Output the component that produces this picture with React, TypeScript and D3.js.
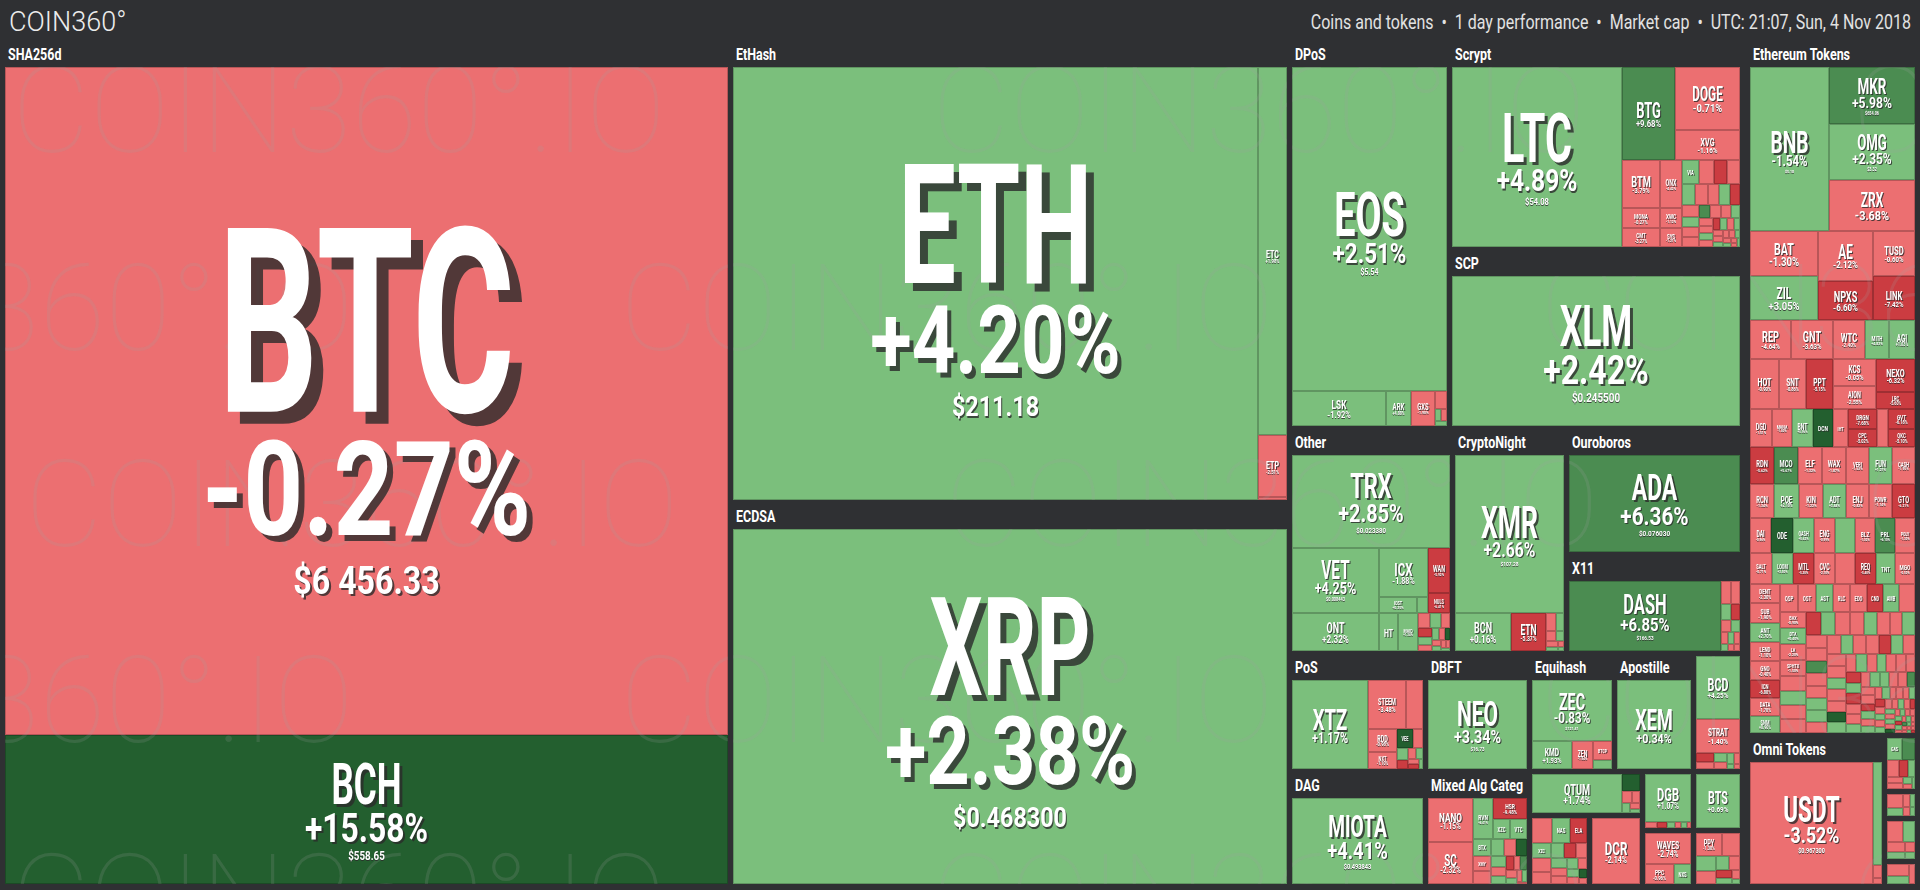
import React, { useMemo } from 'react';
import * as d3 from 'd3';

// [ticker, weight, 24h change %, price?, change used for the cell tint when it differs from the shown change?]
type Row = [string, number, number, string?, number?];

const BG = '#2f3033';
const HEAD = 24;
const GAP = 5;
const FONT = "Roboto, 'DejaVu Sans', sans-serif";

// ---------------- data (values = estimated block weights) ----------------
const SHA256D: Row[] = [['BTC', 4803, -0.27, '$6 456.33'], ['BCH', 1071, 15.58, '$558.65']];
const ETHASH_MAIN: Row[] = [['ETH', 2265, 4.2, '$211.18']];
const ETHASH_SIDE: Row[] = [['ETC', 107, 1.98], ['ETP', 18, -2.51], ['UBQ', 1, -3.1]];
const ECDSA: Row[] = [['XRP', 1956, 2.38, '$0.468300']];

const DPOS_MAIN: Row[] = [['EOS', 502, 2.51, '$5.54']];
const DPOS_ROW: Row[] = [['LSK', 32.3, -1.92, '$3.61', 1.92], ['ARK', 8.8, 4.88], ['GXS', 8.2, -1.9]];
const DPOS_TAIL: Row[] = [['', 2.3, -1.4], ['', 0.8, 1.5], ['', 0.7, -0.5], ['', 0.6, 0.8]];

const SCRYPT_MAIN: Row[] = [['LTC', 304, 4.89, '$54.08']];
const SCRYPT_BTG: Row[] = [['BTG', 49.3, 9.68, '$30.12']];
const SCRYPT_DOGE: Row[] = [['DOGE', 41, -0.71, '$0.005150'], ['XVG', 19.5, -1.16, '$0.012700']];
const SCRYPT_BTM: Row[] = [['BTM', 18.3, -3.79], ['ONX', 10.3, -4.42]];
const SCRYPT_MONA: Row[] = [['MONA', 7.8, -0.27], ['CMT', 7.0, -3.27]];
const SCRYPT_SYS: Row[] = [['XWC', 4.4, -1.12], ['SYS', 4.0, -1.21]];
const SCRYPT_TAIL: Row[] = [
  ['VIA', 4.2, 1.8], ['', 3.6, -2.1], ['', 3.2, -6.5], ['', 3.0, -1.4], ['', 2.8, 3.1], ['', 2.6, -0.9],
  ['', 2.4, -2.7], ['', 2.2, 1.2], ['', 2.1, -5.8], ['', 2.0, -1.6], ['', 1.8, 2.4], ['', 1.7, -0.8],
  ['', 1.6, -3.3], ['', 1.5, 7.2], ['', 1.4, -1.1], ['', 1.3, -2.2], ['', 1.2, 1.5], ['', 1.1, -0.6],
  ['', 1.0, -4.1], ['', 0.95, 2.2], ['', 0.9, -1.9], ['', 0.85, -7.5], ['', 0.8, 0.7], ['', 0.75, -2.5],
  ['', 0.7, 1.9], ['', 0.65, -1.3], ['', 0.6, -0.4], ['', 0.55, 3.4], ['', 0.5, -2.8], ['', 0.45, -1.0],
  ['', 0.4, 1.1], ['', 0.35, -3.6], ['', 0.3, 0.5], ['', 0.3, -1.7], ['', 0.25, -0.9], ['', 0.25, 2.6],
];
const SCP: Row[] = [['XLM', 431, 2.42, '$0.245500']];

const OTHER_MAIN: Row[] = [['TRX', 147, 2.85, '$0.023380']];
const OTHER_VET: Row[] = [['VET', 57.4, 4.25, '$0.008443'], ['ONT', 33.1, 2.32, '$1.73']];
const OTHER_ICX: Row[] = [['ICX', 24.0, -1.88, '$0.9873', 1.88]];
const OTHER_IOST: Row[] = [['IOST', 6.3, 0.35], ['MOAC', 2.0, 1.4]];
const OTHER_WAN: Row[] = [['WAN', 9.9, -5.92], ['NULS', 4.6, -6.41]];
const OTHER_LOW: Row[] = [['HT', 7.2, 1.05], ['MAID', 7.6, 1.34]];
const OTHER_TAIL: Row[] = [
  ['', 1.8, -2.4], ['', 1.6, 1.2], ['', 1.4, -0.8], ['', 1.2, -6.3], ['', 1.0, 2.1], ['', 0.9, -1.5], ['', 0.8, 0.6],
  ['', 0.7, -2.9], ['', 0.6, 10.5], ['', 0.55, -1.1], ['', 0.5, 1.7], ['', 0.45, -0.5], ['', 0.4, -3.8], ['', 0.3, 0.9],
];

const CN_MAIN: Row[] = [['XMR', 171, 2.66, '$107.28']];
const CN_ROW: Row[] = [['BCN', 21.8, 0.16], ['ETN', 13.3, -5.37]];
const CN_TAIL: Row[] = [['', 2.0, -1.5], ['', 1.4, 1.8], ['', 1.0, -0.6], ['', 0.8, 2.4], ['', 0.7, -2.2], ['', 0.5, 0.4], ['', 0.35, -1.1], ['', 0.25, 1.0]];

const OUROBOROS: Row[] = [['ADA', 167, 6.36, '$0.076030']];
const X11_MAIN: Row[] = [['DASH', 107, 6.85, '$166.53']];
const X11_TAIL: Row[] = [
  ['', 2.4, -2.0], ['', 2.0, -1.2], ['', 1.6, 1.5], ['', 1.4, -5.4], ['', 1.2, -0.7], ['', 1.0, 2.2],
  ['', 0.9, -1.8], ['', 0.8, 0.9], ['', 0.7, -2.6], ['', 0.5, 1.3], ['', 0.4, -0.4], ['', 0.4, -3.0],
];

const POS_MAIN: Row[] = [['XTZ', 66.8, 1.17, '$1.24']];
const POS_STEEM: Row[] = [['STEEM', 18.6, -3.48], ['ARDR', 8.3, -1.95]];
const POS_RDD: Row[] = [['RDD', 6.7, -0.98], ['NXT', 4.9, -1.1]];
const POS_TAIL: Row[] = [['VEE', 3.0, 12.4], ['', 1.8, -1.3], ['', 1.4, 1.9], ['', 1.1, -6.5], ['', 0.9, -0.9], ['', 0.7, 2.7], ['', 0.6, -2.2], ['', 0.5, -9.8], ['', 0.4, 1.1]];

const DAG: Row[] = [['MIOTA', 112, 4.41, '$0.493843']];
const DBFT: Row[] = [['NEO', 88.1, 3.34, '$16.73']];
const MIX_NANO: Row[] = [['NANO', 19.8, -1.15], ['SC', 18.9, -2.32]];
const MIX_RVN: Row[] = [['RVN', 8.2, 4.41]];
const MIX_HSR: Row[] = [['HSR', 7.1, -9.48]];
const MIX_XZC: Row[] = [['XZC', 3.4, 2.9], ['VTC', 3.4, 1.9]];
const MIX_TAIL: Row[] = [
  ['BTX', 3.2, 2.1], ['XMY', 2.8, -1.6], ['', 2.4, -2.4], ['', 2.2, 1.4], ['', 2.0, -0.9], ['', 1.8, 12.2],
  ['', 1.6, 3.5], ['', 1.4, -1.8], ['', 1.2, 0.8], ['', 1.1, -6.0], ['', 1.0, -1.1], ['', 0.9, 5.5],
  ['', 0.8, -2.7], ['', 0.7, 1.6], ['', 0.6, -0.4], ['', 0.5, 0.9], ['', 0.2, -1.5],
];

const EQUI_MAIN: Row[] = [['ZEC', 49.4, -0.83, '$121.41', 0.83]];
const EQUI_ROW: Row[] = [['KMD', 11.5, 1.93], ['ZEN', 5.9, -1.94]];
const EQUI_SMALL: Row[] = [['BTCP', 3.6, -2.4], ['ZCL', 1.7, 1.2]];
const APOSTILLE: Row[] = [['XEM', 66.8, 0.34, '$0.092551']];
const BCD_ROWS: Row[] = [['BCD', 27.7, 4.25, '$12.23'], ['STRAT', 15, -1.4]];
const BCD_TAIL: Row[] = [['', 1.6, -5.5], ['', 1.3, -1.2], ['', 1.1, 1.0], ['', 0.9, -0.6], ['', 0.8, 2.0], ['', 0.6, -2.8], ['', 0.4, 0.7], ['', 0.3, -1.5]];

const QTUM_MAIN: Row[] = [['QTUM', 35.1, 1.74, '$3.96']];
const QTUM_TAIL: Row[] = [['', 3.1, 11.0], ['', 1.2, -2.1], ['', 1.0, -0.9], ['', 0.8, 1.6], ['', 0.6, -4.0], ['', 0.4, 2.2]];
const GROUP_G: Row[] = [
  ['GBYTE', 5.0, -1.2], ['NAS', 4.6, 1.46], ['ELA', 4.2, -7.1], ['XZC', 3.0, 1.1], ['', 2.6, -1.9], ['', 2.3, -2.6],
  ['', 2.1, 0.8], ['', 1.9, -5.7], ['', 1.7, -1.0], ['', 1.5, 2.4], ['', 1.4, -0.5], ['', 1.3, -2.2],
  ['', 1.2, 1.3], ['', 1.0, -1.4], ['', 0.9, 0.6], ['', 0.8, -3.3], ['', 0.7, 13.0], ['', 0.5, -0.8],
];
const DCR: Row[] = [['DCR', 32.2, -2.14, '$40.00']];
const DGB: Row[] = [['DGB', 22.1, 1.07]];
const DGB_TAIL: Row[] = [['', 0.7, -1.2], ['', 0.6, -5.4], ['', 0.5, 0.9], ['', 0.4, -2.0], ['', 0.35, 1.7], ['', 0.25, -0.7]];
const WAVES: Row[] = [['WAVES', 14.1, -2.74]];
const WAVES_ROW: Row[] = [['PPC', 5.8, -0.96], ['NXS', 3.6, 1.34]];
const BTS: Row[] = [['BTS', 23.3, 0.69]];
const SMALL_B: Row[] = [['PPY', 6.0, -1.3], ['', 4.0, -2.1], ['', 3.0, 1.8], ['', 2.5, -0.8], ['', 2.0, 2.6], ['', 1.6, -1.7], ['', 1.3, -6.2], ['', 1.0, 0.5], ['', 0.6, -0.9], ['', 0.4, 1.2]];

const ETH_R1_MAIN: Row[] = [['BNB', 130, -1.54, '$5.18', 1.54]];
const ETH_R1_COL: Row[] = [['MKR', 48.7, 5.98, '$654.06'], ['OMG', 47.9, 2.35, '$3.32'], ['ZRX', 43.5, -3.68, '$0.785900']];
const ETH_R2_A: Row[] = [['BAT', 30.4, -1.3, '$0.236600'], ['ZIL', 29.7, 3.05, '$0.036960']];
const ETH_R2_B: Row[] = [['AE', 27.4, -2.12, '$1.17'], ['NPXS', 21.3, -6.6, '$0.001760']];
const ETH_R2_C: Row[] = [['TUSD', 18.9, -0.6], ['LINK', 18.5, -7.42]];
const ETH_R3: Row[] = [['REP', 16, -4.64], ['GNT', 16, -3.63], ['WTC', 12.5, -2.4], ['MITH', 9.5, 4.83], ['AGI', 9.9, 1.03]];
const ETH_R4: Row[] = [['HOT', 15, -0.9], ['SNT', 13.5, -0.86], ['PPT', 14, -5.15]];
const ETH_R4_A: Row[] = [['KCS', 11.6, -0.05], ['AION', 9.9, -2.55]];
const ETH_R4_B: Row[] = [['NEXO', 13.2, -6.32], ['LRC', 6.8, -5.6]];
const ETH_R5: Row[] = [['DGD', 8.5, -1.51], ['MANA', 7.4, -1.8], ['BNT', 7.8, 0.96], ['DCN', 7.8, 12.1], ['IHT', 5.6, -1.1]];
const ETH_R5_A: Row[] = [['DRGN', 5.5, -7.68], ['CPC', 5.2, -5.02]];
const ETH_R5_B: Row[] = [['INS', 4.4, -2.3]];
const ETH_R5_C: Row[] = [['GVT', 5.1, -6.18], ['QKC', 4.9, -5.1]];

const ETH_TAIL_NAMES = [
  'RDN', 'MCO', 'ELF', 'WAX', 'VERI', 'FUN', 'CASH', 'RCN', 'POE', 'KIN',
  'ADT', 'ENJ', 'POWR', 'GTO', 'DAI', 'ODE', 'QASH', 'ENG', 'STORM', 'BLZ',
  'PRL', 'POLY', 'SALT', 'LOOM', 'MTL', 'CVC', 'STORJ', 'REQ', 'TNT', 'MGO',
  'DENT', 'SUB', 'ANT', 'LEND', 'GNO', 'ICN', 'DATA', 'SNM', 'QSP', 'OST',
  'AST', 'RLC', 'EDO', 'CND', 'AMB', 'WINGS', 'BAX', 'DTA', 'LA', 'SPHTX',
];
const ETH_TAIL_VALUES = [
  9.0, 8.9, 8.9, 8.8, 8.6, 8.5, 8.4, 8.3, 8.2, 8.0,
  7.9, 7.8, 7.7, 7.6, 7.5, 7.4, 7.3, 7.2, 7.1, 7.0,
  6.9, 6.8, 6.7, 6.6, 6.5, 6.4, 6.3, 6.2, 6.1, 6.0,
  5.9, 5.8, 5.7, 5.6, 5.5, 5.4, 5.3, 5.2, 5.1, 5.0,
  4.9, 4.8, 4.7, 4.6, 4.5, 4.4, 4.3, 4.2, 4.1, 4.0,
  3.9, 3.8, 3.7, 3.6, 3.5, 3.4, 3.3, 3.2, 3.1, 3.0,
  2.9, 2.9, 2.8, 2.8, 2.7, 2.7, 2.6, 2.6, 2.5, 2.5,
  2.4, 2.4, 2.3, 2.3, 2.2, 2.2, 2.1, 2.1, 2.0, 2.0,
  1.9, 1.9, 1.8, 1.8, 1.7, 1.7, 1.6, 1.6, 1.5, 1.5,
  1.45, 1.4, 1.35, 1.3, 1.25, 1.2, 1.15, 1.1, 1.05, 1.0,
  0.95, 0.9, 0.85, 0.8, 0.78, 0.75, 0.72, 0.7, 0.68, 0.65,
  0.62, 0.6, 0.58, 0.55, 0.52, 0.5, 0.48, 0.46, 0.44, 0.42,
  0.4, 0.38, 0.36, 0.34, 0.32, 0.3, 0.28, 0.26, 0.25, 0.24,
  0.22, 0.21, 0.2, 0.19, 0.18, 0.17, 0.16, 0.15, 0.14, 0.12,
  2.6, 2.4, 2.2, 2.0, 1.8, 1.6, 1.4, 1.2, 1.0, 0.8,
];
const ETH_TAIL_CHANGES = [
  -5.62, 5.67, -1.32, -1.87, -1.63, 1.21, -1.95, -1.34, 2.18, -1.22,
  3.84, -0.82, -1.14, -6.21, -0.96, 11.2, 0.62, -0.99, 1.96, -1.02,
  6.1, -1.3, -0.71, 3.5, -5.3, -2.1, -1.6, -5.4, 1.8, -0.5,
  -2.3, -1.9, 2.7, -1.1, -0.4, -6.8, -1.7, 0.9, -2.6, -1.4,
  1.5, -3.2, -0.6, -7.1, 2.4, -1.8, -0.9, 0.4, -2.2, -1.5,
  -1.2, 3.1, -0.8, -2.7, -5.9, 1.1, -1.6, -0.3, 2.2, -3.4,
  -0.7, 1.7, -2.1, -1.3, 6.4, -0.5, -1.9, 2.9, -4.2, -1.0,
  0.8, -2.4, -6.3, 1.4, -1.1, -0.6, 3.3, -1.7, -2.9, 12.5,
  -1.4, 0.6, -0.9, 2.1, -3.8, -1.2, -7.4, 1.0, -0.4, -2.0,
  1.9, -1.5, 0.3, -2.6, -0.8, 5.2, -1.3, -5.1, 0.7, -1.1,
  -2.2, 2.6, -0.6, -1.8, 1.2, -8.1, -0.9, 0.5, -1.6, 3.7,
  -1.0, -2.5, 1.6, -0.4, -6.0, 0.9, -1.7, 2.3, -3.1, 10.8,
  -0.8, 1.3, -2.8, -1.2, 0.4, -5.6, 2.0, -1.4, -0.7, 1.1,
  -1.9, 6.9, -0.5, -2.3, 0.8, -1.1, -4.5, 1.8, -0.6, -9.2,
  2.5, -1.6, -0.3, 1.5, -2.4, -7.8, 0.6, -1.2, 3.2, -0.9,
];

const OMNI_MAIN: Row[] = [['USDT', 150, -3.52, '$0.967300']];
const OMNI_TAIL: Row[] = [['', 9.0, 1.8], ['', 1.2, -2.0], ['', 0.5, -1.0]];
const SM1: Row[] = [['GAS', 3.2, 4.1], ['', 2.8, 8.2], ['', 2.0, -2.1], ['', 1.6, -6.0], ['', 1.2, 1.5], ['', 1.0, -1.3], ['', 0.8, -0.7], ['', 0.7, 2.2], ['', 0.4, -1.8], ['', 0.3, 0.6]];
const SM2: Row[] = [['WGR', 2.4, -1.9], ['', 1.2, 1.1], ['', 0.9, -2.4], ['', 0.7, 0.5], ['', 0.6, -0.8], ['', 0.4, 3.0]];
const SM3: Row[] = [['', 3.5, -2.2], ['', 2.5, 1.4], ['', 1.8, -0.6], ['', 1.2, 2.5], ['', 0.9, -3.1], ['', 0.7, 0.3]];
const SM4: Row[] = [['', 2.6, -1.6], ['', 1.8, 1.9], ['', 1.2, -0.4]];

const HEADER_PARTS = ['Coins and tokens', '1 day performance', 'Market cap', 'UTC: 21:07, Sun, 4 Nov 2018'];

// watermark rows: [baseline y, x offset]
const WM_ROWS: [number, number][] = [[152, 12], [350, -300], [546, 25], [742, -300], [940, 12]];

// ---------------- structure ----------------
interface ND { name?: string; value?: number; change?: number; tint?: number; price?: string; label?: string; dir?: string; gap?: number; children?: ND[]; }
const L = (rows: Row[]): ND[] => rows.map(([name, value, change, price, tint]) => ({ name, value, change, price, tint: tint ?? change }));
const S = (dir: string, children: ND[]): ND => ({ dir, gap: 0, children });
const C = (dir: string, children: ND[], gap = GAP): ND => ({ dir, gap, children });
const G = (label: string, dir: string, children: ND[]): ND => ({ label, dir, gap: 0, children });
const M = (rows: Row[]): ND => ({ dir: 'sq', gap: 0, children: L(rows) });
const MZ = (names: string[], values: number[], changes: number[]): ND => ({
  dir: 'sq', gap: 0, children: values.map((v, i) => ({ name: names[i] || '', value: v, change: changes[i], tint: changes[i] })),
});

function buildTree(): ND {
  const sha = G('SHA256d', 'v', L(SHA256D));
  const ethash = G('EtHash', 'h', [...L(ETHASH_MAIN), S('v', L(ETHASH_SIDE))]);
  const ecdsa = G('ECDSA', 'v', L(ECDSA));
  const dpos = G('DPoS', 'v', [...L(DPOS_MAIN), S('h', [...L(DPOS_ROW), M(DPOS_TAIL)])]);
  const scrypt = G('Scrypt', 'h', [
    ...L(SCRYPT_MAIN),
    S('v', [
      S('h', [...L(SCRYPT_BTG), S('v', L(SCRYPT_DOGE))]),
      S('h', [S('v', [S('h', L(SCRYPT_BTM)), S('h', [S('v', L(SCRYPT_MONA)), S('v', L(SCRYPT_SYS))])]), M(SCRYPT_TAIL)]),
    ]),
  ]);
  const scp = G('SCP', 'v', L(SCP));
  const other = G('Other', 'v', [
    ...L(OTHER_MAIN),
    S('h', [
      S('v', L(OTHER_VET)),
      S('v', [
        S('h', [S('v', [...L(OTHER_ICX), S('h', L(OTHER_IOST))]), S('v', L(OTHER_WAN))]),
        S('h', [...L(OTHER_LOW), M(OTHER_TAIL)]),
      ]),
    ]),
  ]);
  const cn = G('CryptoNight', 'v', [...L(CN_MAIN), S('h', [...L(CN_ROW), M(CN_TAIL)])]);
  const ouro = G('Ouroboros', 'v', L(OUROBOROS));
  const x11 = G('X11', 'h', [...L(X11_MAIN), M(X11_TAIL)]);
  const pos = G('PoS', 'h', [...L(POS_MAIN), S('v', [S('h', L(POS_STEEM)), S('h', [S('v', L(POS_RDD)), M(POS_TAIL)])])]);
  const dag = G('DAG', 'v', L(DAG));
  const dbft = G('DBFT', 'v', L(DBFT));
  const mixed = G('Mixed Alg Categ', 'h', [
    S('v', L(MIX_NANO)),
    S('v', [S('h', [...L(MIX_RVN), S('v', [...L(MIX_HSR), S('h', L(MIX_XZC))])]), M(MIX_TAIL)]),
  ]);
  const equi = G('Equihash', 'v', [...L(EQUI_MAIN), S('h', [...L(EQUI_ROW), S('v', L(EQUI_SMALL))])]);
  const apost = G('Apostille', 'v', L(APOSTILLE));
  const bcd = S('v', [...L(BCD_ROWS), M(BCD_TAIL)]);
  const colQ = C('v', [S('h', [...L(QTUM_MAIN), M(QTUM_TAIL)]), C('h', [M(GROUP_G), S('v', L(DCR))])]);
  const colD = C('v', [S('v', [...L(DGB), M(DGB_TAIL)]), S('v', [...L(WAVES), S('h', L(WAVES_ROW))])]);
  const colB = C('v', [S('v', L(BTS)), M(SMALL_B)]);
  const ethTokens = G('Ethereum Tokens', 'v', [
    S('h', [...L(ETH_R1_MAIN), S('v', L(ETH_R1_COL))]),
    S('h', [S('v', L(ETH_R2_A)), S('v', L(ETH_R2_B)), S('v', L(ETH_R2_C))]),
    S('h', L(ETH_R3)),
    S('h', [...L(ETH_R4), S('v', L(ETH_R4_A)), S('v', L(ETH_R4_B))]),
    S('h', [...L(ETH_R5), S('v', L(ETH_R5_A)), ...L(ETH_R5_B), S('v', L(ETH_R5_C))]),
    MZ(ETH_TAIL_NAMES, ETH_TAIL_VALUES, ETH_TAIL_CHANGES),
  ]);
  const omni = G('Omni Tokens', 'h', [...L(OMNI_MAIN), M(OMNI_TAIL)]);
  const smallCol = C('v', [M(SM1), M(SM2), M(SM3), M(SM4)]);

  return C('h', [
    sha,
    C('v', [ethash, ecdsa]),
    C('h', [
      C('v', [
        C('h', [dpos, C('v', [scrypt, scp])]),
        C('h', [other, cn, C('v', [ouro, x11])]),
        C('h', [
          C('v', [pos, dag]),
          C('v', [dbft, mixed]),
          C('v', [C('h', [equi, apost, bcd]), C('h', [colQ, colD, colB])]),
        ]),
      ]),
      C('v', [ethTokens, C('h', [omni, smallCol])]),
    ], 10),
  ]);
}

// header-aware slice/dice tiling
function tile(node: any, x0: number, y0: number, x1: number, y1: number) {
  const d = node.data as ND;
  if (d.dir === 'sq') { d3.treemapSquarify(node, x0, y0, x1, y1); return; }
  const kids = node.children as any[];
  const n = kids.length;
  const g = d.gap || 0;
  if (d.dir === 'h') {
    const H = y1 - y0 - g;
    const free = x1 - x0 - n * g - d3.sum(kids, (k: any) => k.aa);
    const wts = kids.map((k: any) => k.value / Math.max(1, H - k.bb));
    const sw = d3.sum(wts) || 1;
    let x = x0;
    kids.forEach((k: any, i: number) => {
      k.y0 = y0; k.y1 = y1; k.x0 = x;
      x += (free * wts[i]) / sw + k.aa + g;
      k.x1 = i === n - 1 ? x1 : x;
    });
  } else {
    const W = x1 - x0 - g;
    const free = y1 - y0 - n * g - d3.sum(kids, (k: any) => k.bb);
    const wts = kids.map((k: any) => k.value / Math.max(1, W - k.aa));
    const sw = d3.sum(wts) || 1;
    let y = y0;
    kids.forEach((k: any, i: number) => {
      k.x0 = x0; k.x1 = x1; k.y0 = y;
      y += (free * wts[i]) / sw + k.bb + g;
      k.y1 = i === n - 1 ? y1 : y;
    });
  }
}

function color(c: number) {
  if (c >= 10) return '#235f2f';
  if (c >= 5) return '#4b8c51';
  if (c >= 0) return '#7bbf7c';
  if (c > -5) return '#ec6f71';
  if (c > -10) return '#cb3c41';
  return '#a7262b';
}
const fmtPct = (c: number) => (c >= 0 ? '+' : '') + c.toFixed(2) + '%';

const W = 1910, H = 841, OX = 5, OY = 43;
const NAME_SX = 0.61, PCT_SX = 0.8, PRICE_SX = 0.82, CAP = 0.711;

interface Line { x: number; y: number; fs: number; sx: number; text: string; f: string; }

function labelLines(n: any): Line[] {
  const d = n.data as ND;
  if (!d.name) return [];
  const w = n.x1 - n.x0, h = n.y1 - n.y0;
  const nc = Math.min(0.275 * h, (0.46 * w) / (0.54 * d.name.length));
  if (nc < 4) return [];
  const ps = fmtPct(d.change as number);
  const pc = Math.min(0.19 * h, (0.44 * w) / (0.57 * ps.length));
  const showPct = pc >= 2.5;
  const prc = 0.3 * pc;
  const showPrice = !!d.price && prc >= 3;
  const g = 0.33 * pc;
  const total = nc + (showPct ? g + pc : 0) + (showPrice ? g + prc : 0);
  let top = n.y0 + h / 2 + 0.015 * h - total / 2;
  const cx = (n.x0 + n.x1) / 2;
  const mk = (cap: number, sx: number, text: string, base: number): Line => {
    const fs = cap / CAP;
    const o = Math.max(0.5, fs * 0.045);
    const dx = Math.round((o / sx) * 2) / 2, dy = Math.round(o * 2) / 2;
    return { x: cx, y: base, fs, sx, text, f: `sh_${dx}_${dy}`.replace(/\./g, 'p') };
  };
  const out: Line[] = [];
  top += nc;
  out.push(mk(nc, NAME_SX, d.name, top));
  if (showPct) { top += g + pc; out.push(mk(pc, PCT_SX, ps, top)); }
  if (showPrice) { top += g + prc; out.push(mk(prc, PRICE_SX, d.price as string, top)); }
  return out;
}

function computeLayout() {
  const root: any = d3.hierarchy(buildTree()).sum((d: any) => (d.children ? 0 : d.value));
  root.each((n: any) => { if (n.data.dir === 'sq') n.sort((a: any, b: any) => b.value - a.value); });
  root.eachAfter((n: any) => {
    if (!n.children) { n.aa = 0; n.bb = 0; return; }
    const d = n.data as ND, g = d.gap || 0, head = d.label ? HEAD : 0, k = n.children, V = n.value || 1;
    if (d.dir === 'h') {
      n.aa = d3.sum(k, (c: any) => c.aa) + (k.length - 1) * g;
      n.bb = d3.sum(k, (c: any) => c.value * c.bb) / V + head;
    } else if (d.dir === 'v') {
      n.bb = d3.sum(k, (c: any) => c.bb) + (k.length - 1) * g + head;
      n.aa = d3.sum(k, (c: any) => c.value * c.aa) / V;
    } else { n.aa = 0; n.bb = head; }
  });
  d3.treemap<any>()
    .size([W, H])
    .tile(tile as any)
    .paddingInner((n: any) => n.data.gap || 0)
    .paddingTop((n: any) => (n.data.label ? HEAD : 0))
    .round(true)(root);
  const leaves = root.leaves();
  const lines: Line[] = [];
  leaves.forEach((n: any) => lines.push(...labelLines(n)));
  const filters = new Map<string, [number, number]>();
  lines.forEach((l) => {
    if (!filters.has(l.f)) {
      const o = Math.max(0.5, l.fs * 0.045);
      filters.set(l.f, [Math.round((o / l.sx) * 2) / 2, Math.round(o * 2) / 2]);
    }
  });
  return { leaves, groups: root.descendants().filter((n: any) => n.data.label), lines, filters: Array.from(filters.entries()) };
}

export default function App() {
  const { leaves, groups, lines, filters } = useMemo(computeLayout, []);
  const sep = '\u00a0\u00a0•\u00a0\u00a0';
  return (
    <svg width={1920} height={890} style={{ position: 'absolute', left: 0, top: 0, display: 'block' }} fontFamily={FONT}>
      <defs>
        {filters.map(([id, [dx, dy]]) => (
          <filter key={id} id={id} x="-30%" y="-30%" width="170%" height="170%" primitiveUnits="userSpaceOnUse" colorInterpolationFilters="sRGB">
            <feOffset in="SourceAlpha" dx={dx} dy={dy} result="off" />
            <feFlood floodColor="#2a2a2a" floodOpacity={0.8} />
            <feComposite in2="off" operator="in" result="shadow" />
            <feMerge>
              <feMergeNode in="shadow" />
              <feMergeNode in="SourceGraphic" />
            </feMerge>
          </filter>
        ))}
        <clipPath id="cellclip">
          {leaves.map((n: any, i: number) => (
            <rect key={i} x={n.x0} y={n.y0} width={Math.max(0, n.x1 - n.x0)} height={Math.max(0, n.y1 - n.y0)} />
          ))}
        </clipPath>
      </defs>
      <rect width={1920} height={890} fill={BG} />
      <text x={9} y={31} fontSize={27} fontWeight={300} fill="#ececec">COIN360°</text>
      <text transform="translate(1911,29) scale(0.8,1)" textAnchor="end" fontSize={20} fill="#e2e2e2">
        {HEADER_PARTS.join(sep)}
      </text>
      <g transform={`translate(${OX},${OY})`}>
        {leaves.map((n: any, i: number) => {
          const f = color(n.data.tint);
          return (
            <rect key={i} x={n.x0 + 0.5} y={n.y0 + 0.5} width={Math.max(0, n.x1 - n.x0 - 1)} height={Math.max(0, n.y1 - n.y0 - 1)}
              fill={f} stroke={d3.color(f)!.darker(0.7).formatHex()} strokeWidth={1} />
          );
        })}
        <g clipPath="url(#cellclip)">
          {WM_ROWS.map(([y, off], r) =>
            [0, 1, 2].map((k) => (
              <text key={`${r}-${k}`} x={off + k * 920 - OX} y={y - OY} fontSize={120} fontWeight={100}
                fill="rgb(160,160,160)" fillOpacity={0.18}>COIN360°.IO</text>
            ))
          )}
        </g>
        {lines.map((l: Line, i: number) => (
          <text key={i} transform={`translate(${l.x},${l.y}) scale(${l.sx},1)`} textAnchor="middle" fontSize={l.fs}
            fontWeight={700} fill="#ffffff" filter={`url(#${l.f})`}>{l.text}</text>
        ))}
        {groups.map((n: any, i: number) => (
          <text key={i} transform={`translate(${n.x0 + 3},${n.y0 + 16.5}) scale(0.78,1)`} fontSize={16} fontWeight={700} fill="#ffffff">
            {n.data.label}
          </text>
        ))}
      </g>
    </svg>
  );
}
